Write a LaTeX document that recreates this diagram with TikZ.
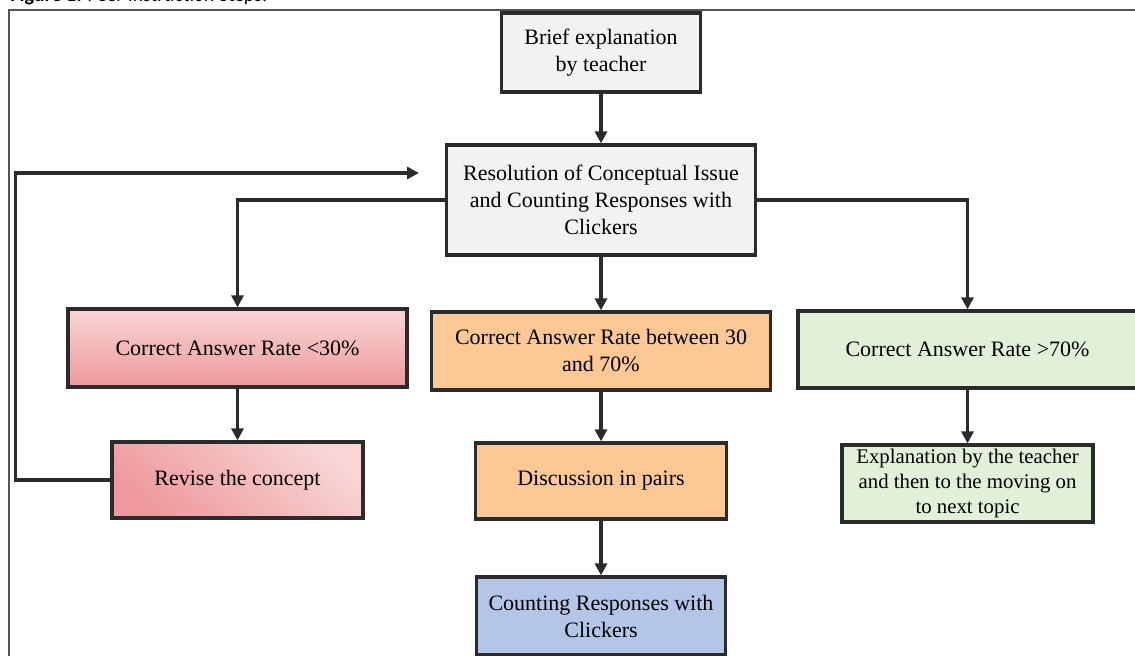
\documentclass[tikz,border=0pt]{standalone}
\usepackage{fontspec}
\setmainfont{Liberation Serif}
\usetikzlibrary{arrows.meta, positioning}
\definecolor{linegray}{HTML}{2B2B2B}
\definecolor{framegray}{HTML}{555555}
\definecolor{boxgray}{HTML}{F2F2F2}
\definecolor{pinklight}{HTML}{F8D6D6}
\definecolor{pinkdark}{HTML}{EE999B}
\definecolor{boxorange}{HTML}{FBC896}
\definecolor{boxblue}{HTML}{B4C6E7}
\definecolor{boxgreen}{HTML}{E2EFD9}
\tikzset{
	block/.style={draw=linegray, line width=1.6pt},
	flow/.style={-{Triangle[length=6pt,width=6pt]}, line width=1.9pt, draw=linegray},
	txt/.style={align=center, font=\rmfamily\fontsize{11}{13.5}\selectfont}
}

\begin{document}
\begin{tikzpicture}[x=0.5pt, y=-0.5pt]
		\useasboundingbox (0,0) rectangle (1135,656);
		\node[anchor=base west, inner sep=0pt, font=\fontspec{Carlito}\fontsize{10}{12}\selectfont] (caption) at (10,2) {\textbf{Figure 1:} \textit{Peer Instruction Steps.}};
		\draw[line width=1pt, framegray] (9,10) rectangle (1200,720);
		
		\node[block, fill=boxgray, minimum width=99.5pt, minimum height=39.5pt] (brief) at (601,52.5) {};
		\node[txt] (briefT) at (brief) {Brief explanation \\ by teacher};
		
		\node[block, fill=boxgray, minimum width=154.5pt, minimum height=55pt] (res) at (601,200) {};
		\node[txt] (resT) at (res) {Resolution of Conceptual Issue \\ and Counting Responses with \\ Clickers};
		
		\node[block, top color=pinklight, bottom color=pinkdark, minimum width=169.5pt, minimum height=39pt] (low) at (237.5,348) {};
		\node[txt] (lowT) at (low) {Correct Answer Rate <30\%};
		
		\node[block, top color=pinklight, bottom color=pinkdark, shading angle=-40, minimum width=125.5pt, minimum height=38pt] (rev) at (237.5,480) {};
		\node[txt] (revT) at (rev) {Revise the concept};
		
		\node[block, fill=boxorange, minimum width=169.5pt, minimum height=39pt] (mid) at (601,351) {};
		\node[txt] (midT) at (mid) {Correct Answer Rate between 30 \\ and 70\%};
		
		\node[block, fill=boxorange, minimum width=125.5pt, minimum height=38pt] (disc) at (601,481) {};
		\node[txt] (discT) at (disc) {Discussion in pairs};
		
		\node[block, fill=boxblue, minimum width=124.5pt, minimum height=39pt] (count) at (601,616) {};
		\node[txt] (countT) at (count) {Counting Responses with \\ Clickers};
		
		\node[block, fill=boxgreen, minimum width=169.5pt, minimum height=38.5pt] (high) at (967.5,349.5) {};
		\node[txt] (highT) at (high) {Correct Answer Rate >70\%};
		
		\node[block, fill=boxgreen, minimum width=125.5pt, minimum height=38.5pt] (expl) at (967.5,483.5) {};
		\node[align=center, font=\rmfamily\fontsize{10.4}{12.5}\selectfont] (explT) at (expl) {Explanation by the teacher \\ and then to the moving on \\ to next topic};
		
		\coordinate (loopEnd) at (419,173);
		
		\draw[flow] (brief.south) -- (res.north);
		\draw[flow] (res.south)   -- (mid.north);
		\draw[flow] (mid.south)   -- (disc.north);
		\draw[flow] (disc.south)  -- (count.north);
		\draw[flow] (res.west)    -| (low.north);
		\draw[flow] (res.east)    -| (high.north);
		\draw[flow] (low.south)   -- (rev.north);
		\draw[flow] (high.south)  -- (expl.north);
		\draw[flow] (rev.west)    -- ++(-95,0) |- (loopEnd);
	\end{tikzpicture}
\end{document}
